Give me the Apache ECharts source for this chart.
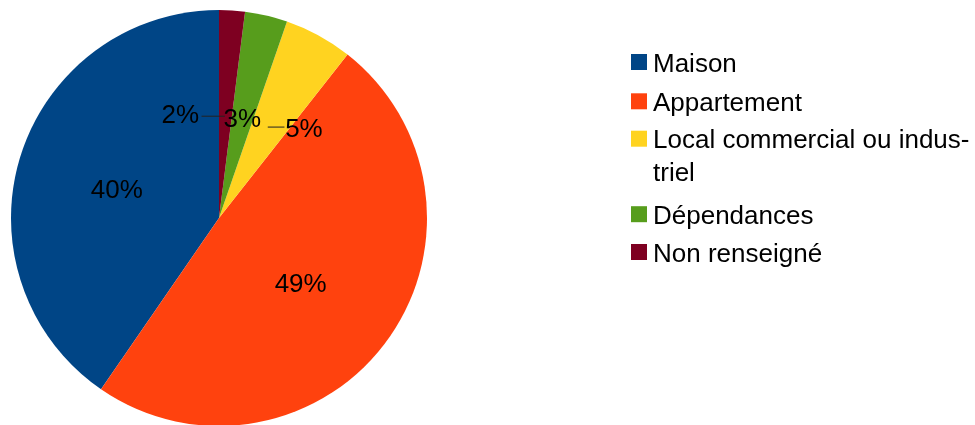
<!DOCTYPE html>
<html>
<head>
<meta charset="utf-8">
<script src="https://cdn.jsdelivr.net/npm/echarts@6/dist/echarts.min.js"></script>
<style>
  html, body { margin: 0; padding: 0; background: #fff; }
</style>
</head>
<body>
<div id="pie" style="width: 975px;height:425px;"></div>
<script>
// données (parts en %)
var categories = ['Maison', 'Appartement', 'Local commercial ou industriel', 'Dépendances', 'Non renseigné'];
var values = [40.4, 49.0, 5.3, 3.3, 2.0];
var colors = ['#004586', '#ff420e', '#ffd320', '#579d1c', '#7e0021'];

var font = 'Liberation Sans';

// réglages des étiquettes, par part
var labelOffsets = [[0, 4.5], [-4.5, 3.5], [25, 3], [-1, 6], [-32.5, 5]];
var labelFormats = ['{v|@}', '{v|@}', '{l5|}{s5|}{p|@}', '{v|@}', '{v|@}{s2|}{l2|}'];

// centre de chaque entrée de légende (y)
var legendCenters = [63, 102.3, 142.2, 215.2, 253];

var pieData = categories.map(function (name, i) {
  return {
    name: name,
    value: values[i],
    itemStyle: { color: colors[i] },
    label: { offset: labelOffsets[i] },
    fmt: labelFormats[i]
  };
});

var legends = categories.map(function (name, i) {
  var twoLines = name === 'Local commercial ou industriel';
  return {
    orient: 'vertical',
    left: 631,
    top: legendCenters[i] - (twoLines ? 49.5 : 16.5),
    padding: 0,
    itemWidth: 16,
    itemHeight: 16,
    icon: 'rect',
    selectedMode: false,
    data: [name],
    formatter: function (n) {
      if (n === 'Local commercial ou industriel') {
        // ligne vide en tête pour garder le carré au niveau de la première ligne
        return '{e| }\n{t|Local commercial ou indus-}\n{t|triel}';
      }
      return '{t|' + n + '}';
    },
    textStyle: {
      fontFamily: font,
      fontSize: 26,
      color: '#000',
      rich: {
        t: { fontFamily: font, fontSize: 26, lineHeight: 33, color: '#000', padding: [5, 0, 0, 1] },
        e: { fontFamily: font, fontSize: 26, lineHeight: 33, color: '#000' }
      }
    }
  };
});

var option = {
  animation: false,
  legend: legends,
  series: [
    {
      name: 'Type de bien',
      type: 'pie',
      center: [219, 218],
      radius: [0, 208],
      startAngle: 90,
      clockwise: false,
      avoidLabelOverlap: false,
      labelLayout: { hideOverlap: false },
      label: {
        show: true,
        position: 'inside',
        color: '#000',
        fontFamily: font,
        fontSize: 26,
        formatter: function (p) {
          return p.data.fmt.replace('@', Math.round(p.percent) + '%');
        },
        rich: {
          v: { fontFamily: font, fontSize: 26, color: '#000' },
          p: { fontFamily: font, fontSize: 26, color: '#000', padding: [6, 0, 0, 0] },
          l2: { width: 23.3, height: 1, backgroundColor: '#222' },
          s2: { width: 2.4, height: 1 },
          l5: { width: 16.7, height: 1, backgroundColor: '#222' },
          s5: { width: 0.7, height: 1 }
        }
      },
      labelLine: { show: false },
      emphasis: { disabled: true },
      data: pieData
    }
  ]
};

var myChart = echarts.init(document.getElementById('pie'));
myChart.setOption(option);
</script>
</body>
</html>
